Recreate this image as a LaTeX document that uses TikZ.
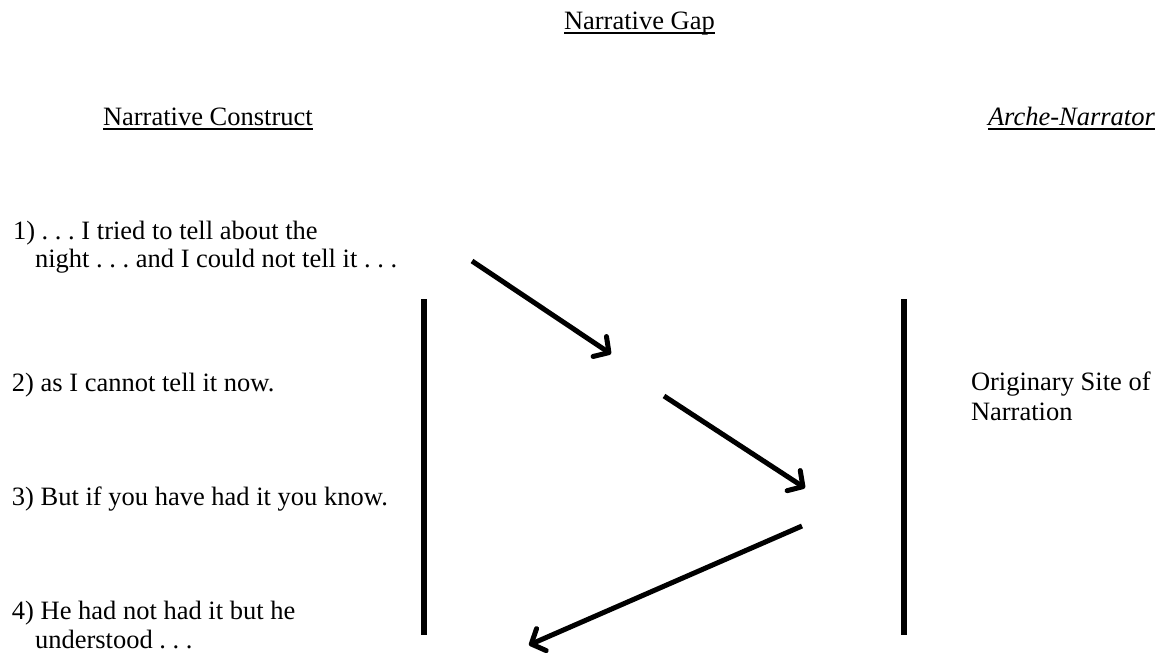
\documentclass[tikz,border=0pt]{standalone}
\usepackage{fontspec}
\setmainfont{Liberation Serif}
\usetikzlibrary{arrows.meta}
\begin{document}
\begin{tikzpicture}[x=1pt,y=-1pt,
  txt/.style={anchor=base west,inner sep=0pt,outer sep=0pt,font=\fontsize{26.5}{30}\selectfont},
  uline/.style={line width=1.6pt},
  bar/.style={line width=6pt},
  arr/.style={line width=5pt,-{Straight Barb[length=11pt,width=24pt,round]}}]
\useasboundingbox (0,0) rectangle (1167,653);
\frenchspacing
% headings
\node[txt] (gap) at (564,29) {Narrative Gap};
\node[txt] (construct) at (103,125) {Narrative Construct};
\node[txt] (arche) at (988,125) {\itshape Arche-Narrator};
\foreach \n in {gap,construct,arche}
  \draw[uline] ([yshift=-4pt]\n.base west) -- ([yshift=-4pt]\n.base east);
% left column
\node[txt] (i1a) at (13,239) {1) . . . I tried to tell about the};
\node[txt] (i1b) at (35,267) {night . . . and I could not tell it . . .};
\node[txt] (i2) at (12,391) {2) as I cannot tell it now.};
\node[txt] (i3) at (12,505) {3) But if you have had it you know.};
\node[txt] (i4a) at (12,619) {4) He had not had it but he};
\node[txt] (i4b) at (35,648) {understood . . .};
% right column
\node[txt] (o1) at (971,390) {Originary Site of};
\node[txt] (o2) at (971,420) {Narration};
% vertical bars
\coordinate (lt) at (424,299);
\coordinate (lb) at (424,635);
\coordinate (rt) at (904,299);
\coordinate (rb) at (904,635);
\draw[bar] (lt) -- (lb);
\draw[bar] (rt) -- (rb);
% arrows
\coordinate (a1s) at (472,261);
\coordinate (a1e) at (611,354);
\coordinate (a2s) at (664,396);
\coordinate (a2e) at (805,488);
\coordinate (a3s) at (802,526);
\coordinate (a3e) at (529,645);
\draw[arr] (a1s) -- (a1e);
\draw[arr] (a2s) -- (a2e);
\draw[arr] (a3s) -- (a3e);
\end{tikzpicture}
\end{document}
